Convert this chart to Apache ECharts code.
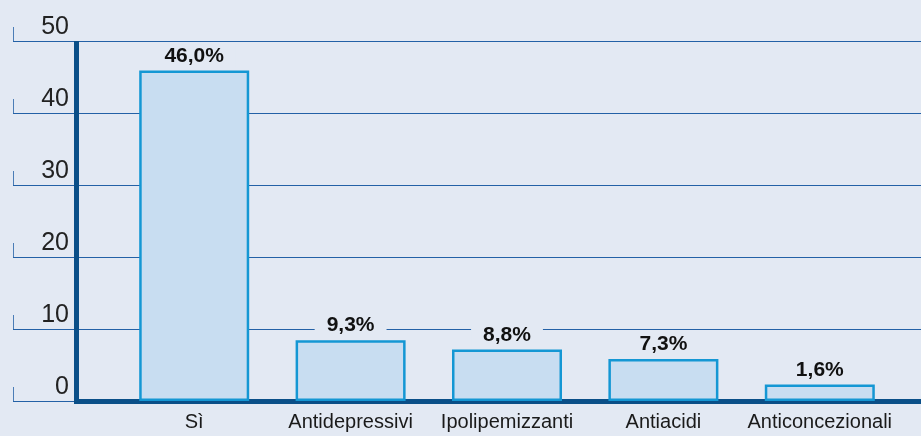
<!DOCTYPE html>
<html>
<head>
<meta charset="utf-8">
<script src="https://cdn.jsdelivr.net/npm/echarts@6/dist/echarts.min.js"></script>
<style>
html,body{margin:0;padding:0;background:#e3e9f3;}
#c{width:921px;height:436px;}
</style>
</head>
<body>
<div id="c"></div>
<script>
var categories = ['Sì', 'Antidepressivi', 'Ipolipemizzanti', 'Antiacidi', 'Anticoncezionali'];
var barHeights = [45.9, 8.45, 7.15, 5.85, 2.3];
var labelTexts = ['46,0%', '9,3%', '8,8%', '7,3%', '1,6%'];
var yTicks = [0, 10, 20, 30, 40, 50];

var BG = '#e3e9f3';
var GRID = '#2461a6';
var AXIS = '#0a4f88';
var FONT = '"Liberation Sans", Arial, Helvetica, sans-serif';

var chart = echarts.init(document.getElementById('c'), null, {renderer: 'canvas'});
var top_ = 41, bottom_ = 35;
chart.setOption({
  backgroundColor: BG,
  animation: false,
  grid: [
    {left: 13, right: 0, top: top_, bottom: bottom_},
    {left: 76.5, right: 0, top: top_, bottom: bottom_},
    {left: 116, right: 23, top: top_, bottom: bottom_}
  ],
  xAxis: [
    {gridIndex: 0, type: 'value', min: 0, max: 1, show: false},
    {gridIndex: 1, type: 'category', data: categories, axisTick: {show: false}, axisLabel: {show: false},
     axisLine: {show: true, lineStyle: {color: AXIS, width: 5, cap: 'square'}}},
    {gridIndex: 2, type: 'category', data: categories, axisTick: {show: false},
     axisLine: {show: false},
     axisLabel: {show: true, margin: 11, fontSize: 20, color: '#1a1a1a', fontFamily: FONT, interval: 0}}
  ],
  yAxis: [
    {gridIndex: 0, type: 'value', min: 0, max: 50, interval: 10,
     axisLine: {show: false}, axisTick: {show: false},
     splitLine: {show: true, lineStyle: {color: GRID, width: 1}},
     axisLabel: {show: true, inside: true, align: 'right', margin: 56, fontSize: 25,
       color: '#222', fontFamily: FONT, verticalAlign: 'bottom', lineHeight: 28}},
    {gridIndex: 1, type: 'value', min: 0, max: 50, interval: 10,
     axisLine: {show: true, lineStyle: {color: AXIS, width: 5, cap: 'butt'}},
     axisTick: {show: false}, splitLine: {show: false}, axisLabel: {show: false}},
    {gridIndex: 2, type: 'value', min: 0, max: 50, interval: 10, show: false}
  ],
  series: [
    {
      type: 'scatter', xAxisIndex: 0, yAxisIndex: 0,
      data: yTicks.map(function (t) { return [0, t]; }),
      symbol: 'rect', symbolSize: [1, 14], symbolOffset: [0.5, -7],
      itemStyle: {color: GRID}, silent: true
    },
    {
      type: 'bar', xAxisIndex: 2, yAxisIndex: 2,
      data: barHeights, barWidth: 110,
      itemStyle: {color: '#c8ddf1', borderColor: '#1497d4', borderWidth: 2.5},
      label: {
        show: true, position: 'top', distance: 3,
        formatter: function (p) { return labelTexts[p.dataIndex]; },
        fontSize: 21, fontWeight: 'bold', color: '#111', fontFamily: FONT,
        backgroundColor: BG, padding: [1, 12]
      }
    }
  ]
});
</script>
</body>
</html>
